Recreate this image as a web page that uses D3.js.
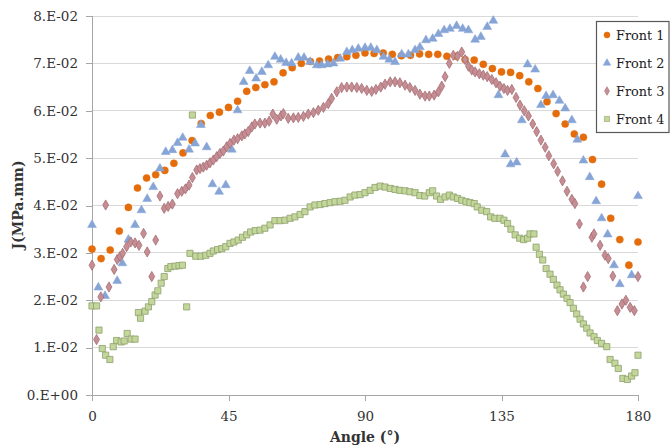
<!DOCTYPE html>
<html><head><meta charset="utf-8">
<script src="https://cdn.jsdelivr.net/npm/d3@7"></script>
<style>body{margin:0;background:#fff}svg{display:block}</style>
</head><body><svg id="c" width="671" height="446"></svg>
<script>
const seriesNames = ["Front 1","Front 2","Front 3","Front 4"];
const yTicks = [0,0.01,0.02,0.03,0.04,0.05,0.06,0.07,0.08];
const yTickLabels = ["0.E+00","1.E-02","2.E-02","3.E-02","4.E-02","5.E-02","6.E-02","7.E-02","8.E-02"];
const xTicks = [0,45,90,135,180];

const front1Angle = [0,3,6,9,12,15,18,21,24,27,30,33,36,39,42,45,48,51,54,57,60,63,66,69,72,75,78,81,84,87,90,93,96,99,102,105,108,111,114,117,120,123,126,129,132,135,138,141,144,147,150,153,156,159,162,165,168,171,174,177,180];
const front1J = [0.0308,0.0288,0.0306,0.0346,0.0396,0.0437,0.0458,0.0465,0.0474,0.0489,0.0511,0.0537,0.0573,0.0590,0.0597,0.0607,0.0620,0.0641,0.0649,0.0655,0.0661,0.0680,0.0691,0.0700,0.0704,0.0705,0.0709,0.0712,0.0714,0.0717,0.0722,0.0721,0.0722,0.0719,0.0716,0.0717,0.0720,0.0719,0.0719,0.0715,0.0715,0.0708,0.0707,0.0698,0.0689,0.0682,0.0681,0.0674,0.0661,0.0647,0.0619,0.0594,0.0572,0.0551,0.0544,0.0497,0.0445,0.0373,0.0328,0.0274,0.0323];

const front2Angle = [0,2.1,4.3,8.3,10,12,14.2,16.3,18.2,20.2,22.4,24.3,26.5,28.2,29.9,32,34,35.9,37.8,39.7,41.9,44.1,46.1,48,50,52,54.1,56,58.1,60.3,62.2,64,65.8,68,69.9,71.9,74.1,75.7,77.7,79.6,81.8,84,85.8,87.8,90,91.9,93.9,96.1,98,99.9,102.1,104.3,106.5,108.1,110.1,112.3,114.2,116.1,118,120.2,122.2,124.1,126.3,128.2,130.3,132.3,134,136.2,138,140,141.7,143.6,146.1,148,149.7,152,154.1,156,158.2,160,162,164.1,166.2,168,170,172.1,174,177.9,180];
const front2J = [0.0359,0.0227,0.0209,0.0241,0.0278,0.0328,0.0359,0.0390,0.0414,0.0439,0.0478,0.0513,0.0517,0.0532,0.0543,0.0518,0.0531,0.0570,0.0523,0.0445,0.0429,0.0443,0.0518,0.0601,0.0661,0.0684,0.0668,0.0682,0.0696,0.0714,0.0708,0.0701,0.0700,0.0712,0.0712,0.0703,0.0696,0.0696,0.0698,0.0700,0.0710,0.0724,0.0728,0.0731,0.0733,0.0733,0.0728,0.0714,0.0708,0.0703,0.0719,0.0719,0.0728,0.0734,0.0749,0.0752,0.0762,0.0770,0.0773,0.0779,0.0773,0.0770,0.0750,0.0756,0.0777,0.0790,0.0633,0.0508,0.0487,0.0491,0.0580,0.0698,0.0687,0.0612,0.0631,0.0633,0.0621,0.0605,0.0580,0.0539,0.0495,0.0460,0.0409,0.0373,0.0339,0.0274,0.0234,0.0253,0.0420];

const front3Angle = [0,1.5,2.9,4.5,5.6,7.3,8.3,9.2,10.1,11.4,12.8,14.2,15.5,17,18.2,19.7,21,22.4,23.8,25.1,26.5,28.2,29.6,30.8,32,33.1,34.5,35.6,36.7,37.8,38.9,40,41.1,42.2,43.3,44.4,45.5,46.8,48,49.4,50.4,51.5,52.7,53.7,55.4,57,58.4,59.6,60.9,62.3,63.1,64.7,66.4,68,69.7,71.3,73,74.6,76.3,77.9,79,80.7,82.3,84,85.6,87.3,88.9,90.6,92.2,93.6,95.2,96.6,98.3,99.9,101.5,103.2,104.8,106.5,108.1,109.8,111.2,112.8,114.2,115.3,116.4,117.8,119.1,120.5,121.9,123,124.1,125.2,126.3,127.7,129,130.3,131.8,133.2,134.5,135.8,137,138.4,139.8,141.1,142.5,143.9,145.3,146.6,148,149.4,150.6,152.2,153.5,155.1,156.6,158.2,159.2,160.7,162,163.4,164.8,165.5,167.5,169.1,170.2,171.7,173.2,174.7,176,177.4,178.8,180];
const front3J = [0.0274,0.0117,0.0207,0.0401,0.0228,0.0265,0.0286,0.0292,0.0299,0.0313,0.0323,0.0321,0.0316,0.0341,0.0302,0.0250,0.0327,0.0420,0.0394,0.0398,0.0403,0.0425,0.0430,0.0435,0.0443,0.0459,0.0475,0.0478,0.0481,0.0485,0.0490,0.0496,0.0503,0.0510,0.0515,0.0524,0.0531,0.0538,0.0541,0.0547,0.0551,0.0556,0.0566,0.0572,0.0574,0.0574,0.0578,0.0593,0.0582,0.0589,0.0594,0.0584,0.0585,0.0586,0.0588,0.0593,0.0596,0.0601,0.0607,0.0615,0.0626,0.0640,0.0649,0.0650,0.0650,0.0649,0.0647,0.0643,0.0641,0.0645,0.0650,0.0656,0.0661,0.0661,0.0659,0.0654,0.0649,0.0643,0.0635,0.0631,0.0631,0.0633,0.0640,0.0652,0.0672,0.0700,0.0717,0.0715,0.0724,0.0708,0.0694,0.0686,0.0682,0.0678,0.0675,0.0672,0.0666,0.0659,0.0652,0.0647,0.0643,0.0645,0.0628,0.0612,0.0600,0.0589,0.0572,0.0556,0.0538,0.0523,0.0505,0.0488,0.0472,0.0452,0.0430,0.0413,0.0404,0.0361,0.0228,0.0250,0.0333,0.0340,0.0316,0.0295,0.0288,0.0251,0.0178,0.0192,0.0200,0.0185,0.0178,0.0250];

const front4Angle = [0,1.5,2.3,3.4,4.5,5.9,7,8.1,9.6,10.6,11.6,12.9,14.2,15.3,16,17.5,18.6,19.7,20.8,21.7,22.8,23.8,25,26,27.4,28.7,29.8,31.2,32.3,33.1,34.2,35.9,37.5,38.9,40,41.4,42.8,44.1,45.5,46.8,48.2,49.6,51,52.3,53.8,55.4,57,58.7,60.3,62,63.6,65.3,66.9,68.6,70.2,71.9,73.5,75.2,76.8,78.5,80.1,81.8,83.4,85.1,86.7,88.4,90,91.7,93.3,95,96.6,98.3,99.9,101.5,103.2,104.8,106.5,108.1,109.7,111.2,112.3,113.6,114.9,116.4,117.8,119.1,120.5,121.9,123.3,124.6,126,127,128.5,130.1,131.4,132.8,134.5,135.8,137,138.1,139.5,141,142.3,143.6,144.4,145.7,146.4,147.5,148.6,149.7,151,152.1,153.3,154.3,155.4,156.6,157.6,158.7,159.8,160.9,162,163.1,164.2,165.5,166.6,168,169.7,170.8,172.4,173.5,175,176.5,177.9,179,180];
const front4J = [0.0188,0.0188,0.0137,0.0098,0.0084,0.0075,0.0102,0.0115,0.0112,0.0114,0.0130,0.0118,0.0118,0.0174,0.0162,0.0177,0.0186,0.0197,0.0211,0.0220,0.0236,0.0250,0.0267,0.0271,0.0272,0.0273,0.0274,0.0186,0.0299,0.0591,0.0293,0.0293,0.0295,0.0299,0.0304,0.0307,0.0309,0.0313,0.0320,0.0323,0.0327,0.0333,0.0338,0.0344,0.0347,0.0348,0.0352,0.0359,0.0368,0.0368,0.0369,0.0373,0.0376,0.0381,0.0387,0.0397,0.0401,0.0402,0.0404,0.0406,0.0408,0.0409,0.0411,0.0418,0.0422,0.0423,0.0427,0.0432,0.0438,0.0441,0.0439,0.0436,0.0434,0.0432,0.0431,0.0429,0.0427,0.0421,0.0420,0.0427,0.0431,0.0420,0.0413,0.0418,0.0422,0.0418,0.0415,0.0411,0.0408,0.0406,0.0404,0.0397,0.0390,0.0387,0.0376,0.0373,0.0373,0.0369,0.0362,0.0350,0.0338,0.0331,0.0328,0.0331,0.0340,0.0340,0.0312,0.0297,0.0285,0.0267,0.0255,0.0244,0.0232,0.0222,0.0213,0.0204,0.0195,0.0183,0.0171,0.0160,0.0150,0.0141,0.0131,0.0123,0.0115,0.0109,0.0102,0.0075,0.0067,0.0056,0.0035,0.0033,0.0040,0.0047,0.0084];

const angles = [front1Angle, front2Angle, front3Angle, front4Angle];
const values = [front1J, front2J, front3J, front4J];
const fills = ["#E46C0A","#86A5D6","#C68E94","#C4D79B"];
const strokes = ["#E46C0A","#86A5D6","#A56E74","#8E9F6C"];
const symbols = [d3.symbolCircle, d3.symbolTriangle, d3.symbolDiamond, d3.symbolSquare];
const sizes = [40, 34, 30, 38];

const svg = d3.select("#c");
const font = "'DejaVu Serif', 'Liberation Serif', serif";
const x = d3.scaleLinear().domain([0,180]).range([92,638]);
const y = d3.scaleLinear().domain([0,0.08]).range([395,16]);

// gridlines
svg.append("g").selectAll("line").data(yTicks.slice(1)).join("line")
  .attr("x1",x(0)).attr("x2",x(180)).attr("y1",d=>y(d)).attr("y2",d=>y(d))
  .attr("stroke","#d9d9d9").attr("stroke-width",1).attr("shape-rendering","crispEdges");

// axes
const yAxis = svg.append("g").attr("transform",`translate(${x(0)},0)`)
  .call(d3.axisLeft(y).tickValues(yTicks).tickFormat((d,i)=>yTickLabels[i]).tickSize(6).tickPadding(8));
const xAxis = svg.append("g").attr("transform",`translate(0,${y(0)})`)
  .call(d3.axisBottom(x).tickValues(xTicks).tickSize(6).tickPadding(10));
[yAxis,xAxis].forEach(a=>{
  a.select(".domain").attr("stroke","#a6a6a6").attr("shape-rendering","crispEdges");
  a.selectAll(".tick line").attr("stroke","#a6a6a6").attr("shape-rendering","crispEdges");
  a.selectAll("text").attr("font-family",font).attr("font-size",13.5).attr("fill","#333");
});

// titles
svg.append("text").attr("x",365).attr("y",442).attr("text-anchor","middle")
  .attr("font-family",font).attr("font-weight","bold").attr("font-size",14).attr("fill","#333").text("Angle (°)");
svg.append("text").attr("transform","translate(23,205) rotate(-90)").attr("text-anchor","middle")
  .attr("font-family",font).attr("font-weight","bold").attr("font-size",14).attr("fill","#333").text("J(MPa.mm)");

// series
values.forEach((vals,si)=>{
  const pts = vals.map((v,i)=>({a:angles[si][i], v}));
  svg.append("g").selectAll("path").data(pts).join("path")
    .attr("transform",d=>`translate(${x(d.a)},${y(d.v)})`)
    .attr("d",d3.symbol().type(symbols[si]).size(sizes[si]))
    .attr("fill",fills[si]).attr("stroke",strokes[si]).attr("stroke-width",si>=2?0.8:0.5);
});

// legend
const lg = svg.append("g");
lg.append("rect").attr("x",596.5).attr("y",21.5).attr("width",72.5).attr("height",111)
  .attr("fill","#fff").attr("stroke","#595959").attr("stroke-width",1.2);
seriesNames.forEach((n,i)=>{
  const yy = 35 + i*28;
  lg.append("path").attr("transform",`translate(607,${yy})`)
    .attr("d",d3.symbol().type(symbols[i]).size(sizes[i]*0.7))
    .attr("fill",fills[i]).attr("stroke",strokes[i]).attr("stroke-width",0.6);
  lg.append("text").attr("x",616).attr("y",yy+5).attr("font-family",font).attr("font-size",12.8)
    .attr("fill","#222").text(n);
});
</script></body></html>
